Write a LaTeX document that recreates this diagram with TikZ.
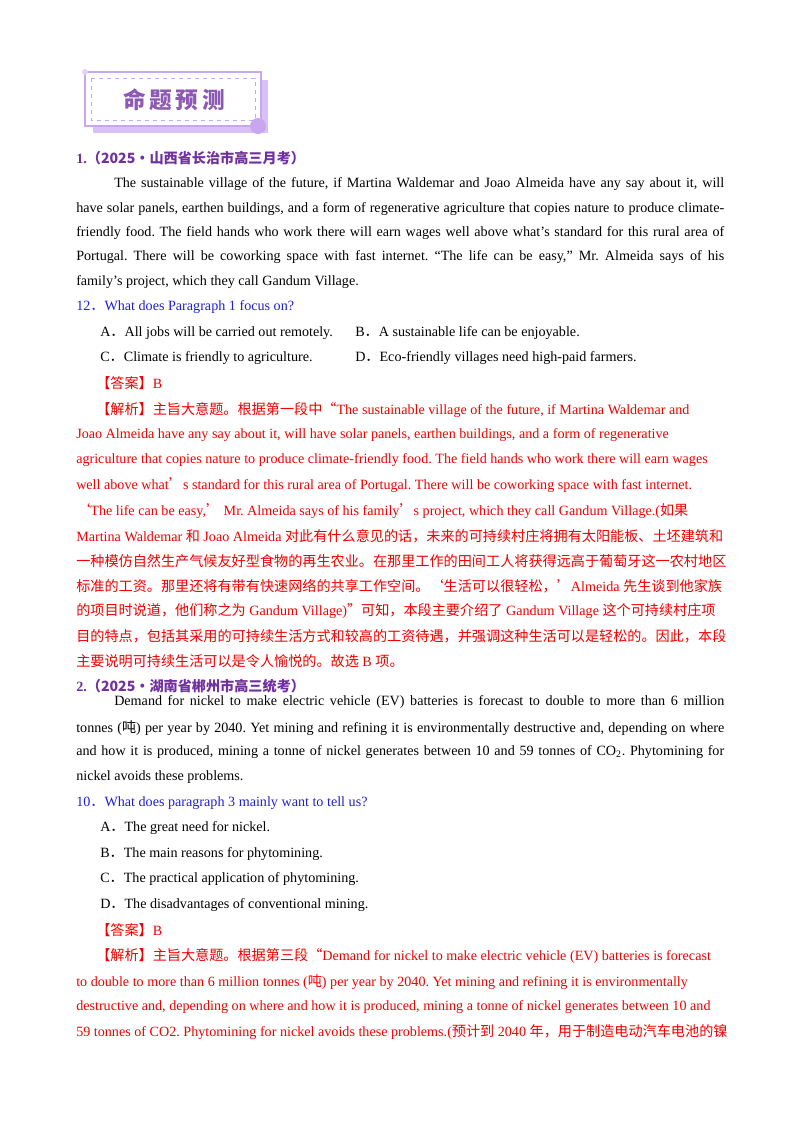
\documentclass[tikz,border=0pt]{standalone}
\usepackage{fontspec}
\setmainfont{Liberation Serif}
\newfontfamily\cjk{Noto Sans CJK SC}
\frenchspacing
\definecolor{pur}{HTML}{7030A0}
\definecolor{lpur}{HTML}{C9A6F0}
\definecolor{qblue}{HTML}{1F1FE0}
\definecolor{ansred}{HTML}{F00000}
\newcounter{lnc}
\newcommand\Ln[3]{\stepcounter{lnc}\node[txt] (l\arabic{lnc}) at (#2,#1) {#3};}
\newcommand\Jn[3]{\stepcounter{lnc}\node[txt] (l\arabic{lnc}) at (#2,#1) {\makebox[\dimexpr 543pt-#2pt*3/4\relax][s]{#3}};}
\newcommand\C[1]{{\cjk #1}}
\begin{document}
\begin{tikzpicture}[x=0.75pt,y=-0.75pt,
  txt/.style={anchor=west,inner sep=0pt,font=\fontsize{10.6pt}{12pt}\selectfont\frenchspacing}]
\useasboundingbox (0,0) rectangle (800,1132);
\fill[white] (0,0) rectangle (800,1132);
% banner
\fill[lpur!70] (93,80) rectangle (268,133);
\fill[white] (85,72) rectangle (261,126);
\draw[lpur,line width=1.2pt] (85,72) rectangle (261,126);
\draw[lpur,dashed] (91,78) rectangle (255,120);
\fill[lpur] (258,126) circle (8);
\fill[lpur!50] (85,72) circle (3);
\node[inner sep=0pt,text=pur!80,font=\cjk\bfseries\fontsize{17pt}{18pt}\selectfont] (ban) at (174,100) {命\,题\,预\,测};
% Q1
\Ln{158}{76}{\color{pur}\bfseries 1.\C{（2025·山西省长治市高三月考）}}
\Jn{184}{114}{The sustainable village of the future, if Martina Waldemar and Joao Almeida have any say about it, will}
\Jn{209}{76}{have solar panels, earthen buildings, and a form of regenerative agriculture that copies nature to produce climate-}
\Jn{233}{76}{friendly food. The field hands who work there will earn wages well above what’s standard for this rural area of}
\Jn{257}{76}{Portugal. There will be coworking space with fast internet. “The life can be easy,” Mr. Almeida says of his}
\Ln{282}{76}{family’s project, which they call Gandum Village.}
\Ln{307}{76}{\color{qblue}12\C{．}What does Paragraph 1 focus on?}
\Ln{333}{100}{A\C{．}All jobs will be carried out remotely.}
\Ln{333}{355}{B\C{．}A sustainable life can be enjoyable.}
\Ln{358}{100}{C\C{．}Climate is friendly to agriculture.}
\Ln{358}{355}{D\C{．}Eco-friendly villages need high-paid farmers.}
\Ln{383}{96}{\color{ansred}\C{【答案】}B}
\Ln{410}{96}{\color{ansred}\C{【解析】主旨大意题。根据第一段中“}The sustainable village of the future, if Martina Waldemar and}
\Ln{435}{76}{\color{ansred}Joao Almeida have any say about it, will have solar panels, earthen buildings, and a form of regenerative}
\Ln{460}{76}{\color{ansred}agriculture that copies nature to produce climate-friendly food. The field hands who work there will earn wages}
\Ln{485}{76}{\color{ansred}well above what\C{’}s standard for this rural area of Portugal. There will be coworking space with fast internet.}
\Ln{511}{76}{\color{ansred}\C{‘}The life can be easy,\C{’} Mr. Almeida says of his family\C{’}s project, which they call Gandum Village.(\C{如果}}
\Ln{536}{76}{\color{ansred}Martina Waldemar \C{和} Joao Almeida \C{对此有什么意见的话，未来的可持续村庄将拥有太阳能板、土坯建筑和}}
\Ln{561}{76}{\color{ansred}\C{一种模仿自然生产气候友好型食物的再生农业。在那里工作的田间工人将获得远高于葡萄牙这一农村地区}}
\Ln{586}{76}{\color{ansred}\C{标准的工资。那里还将有带有快速网络的共享工作空间。‘生活可以很轻松，’}Almeida \C{先生谈到他家族}}
\Ln{611}{76}{\color{ansred}\C{的项目时说道，他们称之为} Gandum Village)\C{”可知，本段主要介绍了} Gandum Village \C{这个可持续村庄项}}
\Ln{636}{76}{\color{ansred}\C{目的特点，包括其采用的可持续生活方式和较高的工资待遇，并强调这种生活可以是轻松的。因此，本段}}
\Ln{661}{76}{\color{ansred}\C{主要说明可持续生活可以是令人愉悦的。故选} B \C{项。}}
% Q2
\Ln{686}{76}{\color{pur}\bfseries 2.\C{（2025·湖南省郴州市高三统考）}}
\Jn{702}{114}{Demand for nickel to make electric vehicle (EV) batteries is forecast to double to more than 6 million}
\Jn{728}{76}{tonnes (\C{吨}) per year by 2040. Yet mining and refining it is environmentally destructive and, depending on where}
\Jn{752}{76}{and how it is produced, mining a tonne of nickel generates between 10 and 59 tonnes of CO\textsubscript{2}. Phytomining for}
\Ln{777}{76}{nickel avoids these problems.}
\Ln{803}{76}{\color{qblue}10\C{．}What does paragraph 3 mainly want to tell us?}
\Ln{828}{100}{A\C{．}The great need for nickel.}
\Ln{854}{100}{B\C{．}The main reasons for phytomining.}
\Ln{879}{100}{C\C{．}The practical application of phytomining.}
\Ln{905}{100}{D\C{．}The disadvantages of conventional mining.}
\Ln{930}{96}{\color{ansred}\C{【答案】}B}
\Ln{956}{96}{\color{ansred}\C{【解析】主旨大意题。根据第三段“}Demand for nickel to make electric vehicle (EV) batteries is forecast}
\Ln{982}{76}{\color{ansred}to double to more than 6 million tonnes (\C{吨}) per year by 2040. Yet mining and refining it is environmentally}
\Ln{1007}{76}{\color{ansred}destructive and, depending on where and how it is produced, mining a tonne of nickel generates between 10 and}
\Ln{1032}{76}{\color{ansred}59 tonnes of CO2. Phytomining for nickel avoids these problems.(\C{预计到} 2040 \C{年，用于制造电动汽车电池的镍}}
\end{tikzpicture}
\end{document}
